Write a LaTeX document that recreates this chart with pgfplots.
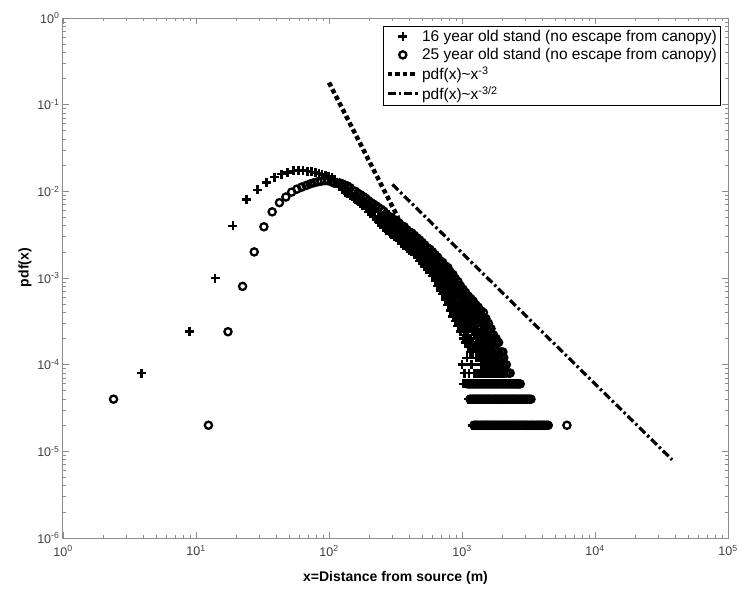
\documentclass[border=0pt]{standalone}
\usepackage{fontspec}
\setmainfont{Liberation Sans}
\usepackage{pgfplots}
\pgfplotsset{compat=1.18}
\definecolor{axgray}{gray}{0.55}
\definecolor{tickgray}{gray}{0.25}
\newcommand{\tp}[1]{10\textsuperscript{#1}}
\begin{document}
\begin{tikzpicture}
\useasboundingbox (-63pt,-51pt) rectangle (676pt,538pt);
\begin{axis}[
  at={(0pt,0pt)}, anchor=south west,
  scale only axis, width=665pt, height=520pt,
  xmode=log, ymode=log,
  xmin=1, xmax=1e5, ymin=1e-6, ymax=1,
  xtick={1,10,100,1000,10000,100000},
  xticklabels={\tp{0},\tp{1},\tp{2},\tp{3},\tp{4},\tp{5}},
  ytick={1e-6,1e-5,1e-4,1e-3,1e-2,1e-1,1},
  yticklabels={\tp{-6},\tp{-5},\tp{-4},\tp{-3},\tp{-2},\tp{-1},\tp{0}},
  tick align=inside,
  major tick length=6pt, minor tick length=3.5pt,
  axis line style={axgray, line width=1pt},
  every tick/.style={axgray, line width=0.8pt},
  tick label style={font=\fontsize{12.5}{14}\selectfont, text=tickgray},
  xticklabel style={yshift=-4pt},
  xlabel={\bfseries x=Distance from source (m)},
  ylabel={\bfseries pdf(x)},
  label style={font=\fontsize{14}{16}\selectfont},
  xlabel style={at={(axis description cs:0.5,-0.077)}, anchor=center},
  ylabel style={at={(axis description cs:-0.057,0.52)}, anchor=center},
  legend style={at={(axis description cs:0.9895,0.9846)}, anchor=north east,
    draw=black, line width=0.6pt, fill=white,
    font=\fontsize{15.5}{17}\selectfont, cells={anchor=west}, row sep=1.5pt, inner sep=2pt},
  legend image code/.code={\draw[mark repeat=2,mark phase=2,#1] plot coordinates {(0pt,0pt) (15pt,0pt) (30pt,0pt)};},
]
% 16 year old stand
\addplot[only marks, mark=+, mark size=4.5pt, line width=2.5pt, black] coordinates {
(3.9,8e-5) (8.9,2.4e-4) (13.9,1e-3) (18.9,4e-3) (23.9,8e-3) (28.9,1.04e-2) (33.9,1.26e-2) (38.9,1.46e-2) (43.9,1.58e-2) (48.9,1.66e-2) (53.9,1.72e-2) (58.9,1.74e-2) (63.9,1.73e-2) (68.9,1.71e-2) (73.9,1.68e-2) (78.9,1.64e-2) (83.9,1.6e-2) (88.9,1.56e-2) (93.9,1.52e-2) (98.9,1.48e-2)
(105,1.45e-2) (110,1.36e-2) (115,1.28e-2) (120,1.16e-2) (126,1.04e-2) (132,9.8e-3) (138,9.5e-3) (144,8.9e-3) (151,8.7e-3) (158,8.1e-3) (165,7.6e-3) (173,7.2e-3) (181,6.8e-3) (181,7.6e-3) (189,6.3e-3) (198,6.6e-3) (198,5.8e-3) (207,5.5e-3) (216,5.9e-3) (216,5.1e-3) (226,4.7e-3) (236,5.2e-3) (236,4.4e-3) (247,4.1e-3)
(185,7.4e-3) (203,6.5e-3) (221,5.75e-3) (241,5.1e-3)
(258,4.5e-3) (258,3.8e-3) (270,4.3e-3) (270,3.5e-3) (282,3.9e-3) (282,3.4e-3) (295,3.7e-3) (295,3.2e-3) (308,3.6e-3) (308,3.0e-3) (322,3.4e-3) (322,2.9e-3) (337,3.1e-3) (337,2.7e-3) (352,3.0e-3) (352,2.5e-3) (368,2.9e-3) (368,2.4e-3) (385,2.6e-3) (385,2.2e-3) (402,2.5e-3) (402,2.1e-3) (420,2.4e-3) (420,2.0e-3) (439,2.2e-3) (439,1.86e-3) (459,2.14e-3) (459,1.74e-3) (480,1.95e-3) (480,1.58e-3) (502,1.82e-3) (502,1.48e-3) (525,1.7e-3) (525,1.35e-3) (549,1.55e-3) (549,1.26e-3) (574,1.48e-3) (574,1.15e-3) (600,1.32e-3) (600,1.05e-3)
(264,4.0e-3) (276,3.7e-3) (288,3.55e-3) (301,3.35e-3) (315,3.2e-3) (329,3.0e-3) (344,2.8e-3) (360,2.65e-3) (376,2.5e-3) (393,2.35e-3) (411,2.2e-3) (429,2.1e-3) (449,1.95e-3) (469,1.8e-3) (491,1.7e-3) (513,1.55e-3) (537,1.45e-3) (561,1.35e-3) (587,1.23e-3) (613,1.12e-3)
(627,1.26e-3) (627,1.10e-3) (627,9.3e-4) (655,1.12e-3) (655,9.8e-4) (655,8.1e-4) (685,1.02e-3) (685,8.5e-4) (685,7.2e-4) (716,9.3e-4) (716,7.8e-4) (716,6.5e-4) (748,8.5e-4) (748,6.9e-4) (748,5.6e-4) (782,7.6e-4) (782,6.2e-4) (782,4.9e-4) (817,6.9e-4) (817,5.4e-4) (817,4.2e-4) (854,6.0e-4) (854,4.8e-4) (854,3.6e-4) (892,5.2e-4) (892,4.2e-4) (892,3.2e-4) (932,4.7e-4) (932,3.5e-4) (932,2.8e-4) (974,4.2e-4) (974,3.2e-4) (974,2.4e-4) (1018,3.6e-4) (1018,2.8e-4) (1018,2.0e-4) (1064,3.2e-4) (1064,2.4e-4) (1064,1.8e-4) (1112,3.0e-4) (1112,2.2e-4) (1112,1.6e-4) (1162,2.6e-4) (1162,2.0e-4) (1162,1.4e-4) (1214,2.4e-4) (1214,1.8e-4) (1214,1.4e-4) (1269,2.4e-4) (1269,1.8e-4) (1269,1.2e-4) (1326,2.2e-4) (1326,1.6e-4) (1326,1.2e-4) (1386,2.0e-4) (1386,1.6e-4) (1386,1.0e-4) (1448,1.8e-4) (1448,1.4e-4) (1448,1.0e-4) (1513,1.8e-4) (1513,1.4e-4) (1513,1.0e-4) (1581,1.6e-4) (1581,1.2e-4) (1581,1.0e-4) (1652,1.6e-4) (1652,1.2e-4) (1652,1.0e-4) (1726,1.4e-4) (1726,1.2e-4) (1726,1.0e-4) (1804,1.2e-4) (1804,1.0e-4) (1804,8e-5) (1885,1.0e-4) (1885,8e-5) (1970,8e-5) (2059,8e-5)
(641,1.15e-3) (641,9.3e-4) (670,1.02e-3) (670,8.3e-4) (700,9.3e-4) (700,7.4e-4) (732,8.4e-4) (732,6.6e-4) (765,7.5e-4) (765,5.8e-4) (799,6.6e-4) (799,5.0e-4) (835,5.8e-4) (835,4.4e-4) (873,5.1e-4) (873,3.8e-4) (912,4.6e-4) (912,3.3e-4) (953,4.0e-4) (953,2.8e-4) (996,3.55e-4) (996,2.6e-4) (1041,3.2e-4) (1041,2.2e-4) (1088,2.8e-4) (1088,2.0e-4) (1137,2.6e-4) (1137,1.8e-4) (1188,2.4e-4) (1188,1.6e-4) (1241,2.2e-4) (1241,1.6e-4) (1297,2.0e-4) (1297,1.4e-4) (1356,1.8e-4) (1356,1.2e-4) (1417,1.8e-4) (1417,1.2e-4) (1480,1.6e-4) (1480,1.2e-4) (1547,1.6e-4) (1547,1.2e-4) (1616,1.4e-4) (1616,1.2e-4) (1689,1.4e-4) (1689,1.0e-4) (1765,1.4e-4) (1765,1.0e-4) (1844,1.2e-4) (1844,1.0e-4)
(1000,1.0e-4) (1040,8e-5) (1090,1.2e-4) (1130,8e-5) (1180,1.0e-4) (1240,8e-5) (1300,8e-5) (1400,8e-5) (1500,8e-5) (1600,8e-5) (1700,8e-5) (1350,8e-5) (1450,8e-5) (1550,8e-5) (1650,8e-5) (1750,8e-5)
(1020,6e-5) (1080,6e-5) (1145,6e-5) (1215,6e-5) (1290,6e-5) (1365,6e-5) (1450,6e-5) (1535,6e-5) (1630,6e-5) (1725,6e-5) (1830,6e-5) (1940,6e-5) (2055,6e-5) (2180,6e-5) (2310,6e-5) (2450,6e-5)
(1050,6e-5) (1112,6e-5) (1180,6e-5) (1252,6e-5) (1327,6e-5) (1407,6e-5) (1492,6e-5) (1582,6e-5) (1677,6e-5) (1777,6e-5) (1885,6e-5) (1997,6e-5) (2117,6e-5) (2245,6e-5) (2380,6e-5)
(1110,4e-5) (1180,4e-5) (1250,4e-5) (1325,4e-5) (1405,4e-5) (1490,4e-5) (1580,4e-5) (1675,4e-5) (1775,4e-5) (1880,4e-5) (1995,4e-5) (2115,4e-5) (2240,4e-5) (2375,4e-5) (2520,4e-5) (2670,4e-5)
(1145,4e-5) (1215,4e-5) (1287,4e-5) (1365,4e-5) (1447,4e-5) (1535,4e-5) (1627,4e-5) (1725,4e-5) (1827,4e-5) (1937,4e-5) (2055,4e-5) (2177,4e-5) (2307,4e-5) (2447,4e-5) (2595,4e-5)
(1190,2e-5) (1260,2e-5) (1340,2e-5) (1420,2e-5) (1505,2e-5) (1595,2e-5) (1690,2e-5) (1790,2e-5) (1900,2e-5) (2010,2e-5) (2135,2e-5) (2260,2e-5) (2395,2e-5) (2540,2e-5) (2690,2e-5) (2850,2e-5) (3020,2e-5)
(1225,2e-5) (1300,2e-5) (1380,2e-5) (1462,2e-5) (1550,2e-5) (1642,2e-5) (1740,2e-5) (1845,2e-5) (1955,2e-5) (2072,2e-5) (2197,2e-5) (2327,2e-5) (2467,2e-5) (2615,2e-5) (2770,2e-5) (2935,2e-5)
};
\addlegendentry{16 year old stand (no escape from canopy)}
% 25 year old stand
\addplot[only marks, mark=o, mark size=3.6pt, line width=2.3pt, black] coordinates {
(2.4,4e-5) (12.4,2e-5) (17.4,2.4e-4) (22.4,8e-4) (27.4,2.0e-3) (32.4,3.9e-3) (37.4,5.8e-3) (42.4,7.4e-3) (47.4,8.6e-3) (52.4,9.8e-3) (57.4,1.06e-2) (62.4,1.12e-2) (67.4,1.17e-2) (72.4,1.22e-2) (77.4,1.26e-2) (82.4,1.29e-2) (87.4,1.31e-2) (92.4,1.33e-2) (97.4,1.33e-2)
(105,1.28e-2) (110,1.24e-2) (115,1.24e-2) (120,1.25e-2) (126,1.22e-2) (132,1.17e-2) (138,1.15e-2) (144,1.10e-2) (151,1.02e-2) (158,1.0e-2) (165,9.5e-3) (173,9.1e-3) (173,7.9e-3) (181,8.7e-3) (189,8.3e-3) (189,7.2e-3) (198,7.8e-3) (207,7.4e-3) (207,6.3e-3) (216,7.1e-3) (226,6.8e-3) (226,5.6e-3) (236,6.5e-3) (247,6.2e-3) (247,5.0e-3)
(169,8.3e-3) (194,6.9e-3) (212,6.2e-3) (231,5.4e-3) (252,4.8e-3)
(258,5.9e-3) (258,5.0e-3) (270,5.5e-3) (270,4.6e-3) (282,5.1e-3) (282,4.7e-3) (295,5.0e-3) (295,4.2e-3) (308,4.7e-3) (308,4.0e-3) (322,4.6e-3) (322,3.7e-3) (337,4.3e-3) (337,3.6e-3) (352,4.0e-3) (352,3.5e-3) (368,3.9e-3) (368,3.2e-3) (385,3.6e-3) (385,3.1e-3) (402,3.4e-3) (402,3.0e-3) (420,3.3e-3) (420,2.7e-3) (439,3.1e-3) (439,2.6e-3) (459,2.9e-3) (459,2.45e-3) (480,2.75e-3) (480,2.2e-3) (502,2.57e-3) (502,2.14e-3) (525,2.4e-3) (525,1.9e-3) (549,2.24e-3) (549,1.86e-3) (574,2.14e-3) (574,1.66e-3) (600,2.0e-3) (600,1.58e-3)
(264,5.1e-3) (264,4.6e-3) (276,4.9e-3) (276,4.3e-3) (288,4.7e-3) (288,4.1e-3) (301,4.4e-3) (301,3.9e-3) (315,4.2e-3) (315,3.7e-3) (329,4.0e-3) (329,3.5e-3) (344,3.7e-3) (344,3.3e-3) (360,3.55e-3) (360,3.1e-3) (376,3.4e-3) (376,2.95e-3) (393,3.2e-3) (393,2.75e-3) (411,3.0e-3) (411,2.6e-3) (429,2.85e-3) (429,2.5e-3) (449,2.7e-3) (449,2.35e-3) (469,2.5e-3) (469,2.2e-3) (491,2.35e-3) (491,2.0e-3) (513,2.2e-3) (513,1.86e-3) (537,2.05e-3) (537,1.74e-3) (561,1.9e-3) (561,1.62e-3) (587,1.78e-3) (587,1.5e-3) (613,1.66e-3) (613,1.38e-3)
(627,1.86e-3) (627,1.62e-3) (627,1.41e-3) (655,1.74e-3) (655,1.45e-3) (655,1.26e-3) (685,1.58e-3) (685,1.38e-3) (685,1.15e-3) (716,1.51e-3) (716,1.23e-3) (716,1.07e-3) (748,1.38e-3) (748,1.20e-3) (748,9.5e-4) (782,1.32e-3) (782,1.07e-3) (782,8.9e-4) (817,1.17e-3) (817,1.0e-3) (817,7.8e-4) (854,1.10e-3) (854,8.7e-4) (854,7.1e-4) (892,9.8e-4) (892,8.1e-4) (892,6.3e-4) (932,9.1e-4) (932,7.1e-4) (932,5.8e-4) (974,8.1e-4) (974,6.6e-4) (974,5.0e-4) (1018,7.4e-4) (1018,5.8e-4) (1018,4.5e-4) (1064,6.8e-4) (1064,5.2e-4) (1064,4.0e-4) (1112,6.2e-4) (1112,4.9e-4) (1112,3.7e-4) (1162,5.8e-4) (1162,4.5e-4) (1162,3.4e-4) (1214,5.4e-4) (1214,4.2e-4) (1214,3.2e-4) (1269,4.9e-4) (1269,3.8e-4) (1269,3.0e-4) (1326,4.6e-4) (1326,3.6e-4) (1326,2.8e-4) (1386,4.2e-4) (1386,3.2e-4) (1386,2.6e-4) (1448,4.0e-4) (1448,3.0e-4) (1448,2.4e-4) (1513,3.4e-4) (1513,2.8e-4) (1513,2.2e-4) (1581,3.0e-4) (1581,2.4e-4) (1581,2.0e-4) (1652,2.6e-4) (1652,2.2e-4) (1652,1.8e-4) (1726,2.2e-4) (1726,2.0e-4) (1726,1.6e-4) (1804,2.0e-4) (1804,1.8e-4) (1804,1.4e-4) (1885,1.8e-4) (1885,1.4e-4) (1885,1.2e-4) (1970,1.4e-4) (1970,1.2e-4) (1970,1.0e-4) (2030,1.4e-4) (2059,1.2e-4) (2059,1.0e-4) (2059,8e-5) (2152,1.0e-4) (2152,8e-5) (2249,8e-5) (2300,8e-5)
(641,1.68e-3) (641,1.38e-3) (670,1.55e-3) (670,1.26e-3) (700,1.45e-3) (700,1.15e-3) (732,1.33e-3) (732,1.05e-3) (765,1.23e-3) (765,9.5e-4) (799,1.14e-3) (799,8.6e-4) (835,1.02e-3) (835,7.7e-4) (873,9.3e-4) (873,6.8e-4) (912,8.4e-4) (912,6.2e-4) (953,7.6e-4) (953,5.5e-4) (996,6.8e-4) (996,4.8e-4) (1041,6.2e-4) (1041,4.3e-4) (1088,5.6e-4) (1088,3.9e-4) (1137,5.2e-4) (1137,3.6e-4) (1188,4.8e-4) (1188,3.4e-4) (1241,4.5e-4) (1241,3.2e-4) (1297,4.2e-4) (1297,3.0e-4) (1356,3.9e-4) (1356,2.6e-4) (1417,3.6e-4) (1417,2.4e-4) (1480,3.2e-4) (1480,2.2e-4) (1547,2.8e-4) (1547,2.0e-4) (1616,2.6e-4) (1616,1.8e-4) (1689,2.2e-4) (1689,1.8e-4) (1765,2.0e-4) (1765,1.6e-4) (1844,1.8e-4) (1844,1.4e-4)
(1100,6e-5) (1170,6e-5) (1240,6e-5) (1315,6e-5) (1395,6e-5) (1480,6e-5) (1570,6e-5) (1665,6e-5) (1765,6e-5) (1870,6e-5) (1985,6e-5) (2100,6e-5) (2230,6e-5) (2365,6e-5) (2505,6e-5) (2620,6e-5) (2740,6e-5)
(1135,6e-5) (1205,6e-5) (1277,6e-5) (1355,6e-5) (1437,6e-5) (1525,6e-5) (1617,6e-5) (1715,6e-5) (1817,6e-5) (1927,6e-5) (2042,6e-5) (2165,6e-5) (2297,6e-5) (2435,6e-5) (2562,6e-5) (2680,6e-5)
(1150,4e-5) (1220,4e-5) (1290,4e-5) (1370,4e-5) (1450,4e-5) (1540,4e-5) (1630,4e-5) (1730,4e-5) (1835,4e-5) (1945,4e-5) (2060,4e-5) (2185,4e-5) (2315,4e-5) (2455,4e-5) (2600,4e-5) (2760,4e-5) (2925,4e-5) (3100,4e-5) (3300,4e-5)
(1185,4e-5) (1255,4e-5) (1330,4e-5) (1410,4e-5) (1495,4e-5) (1585,4e-5) (1680,4e-5) (1782,4e-5) (1890,4e-5) (2002,4e-5) (2122,4e-5) (2250,4e-5) (2385,4e-5) (2527,4e-5) (2680,4e-5) (2842,4e-5) (3012,4e-5) (3200,4e-5)
(1230,2e-5) (1300,2e-5) (1380,2e-5) (1465,2e-5) (1550,2e-5) (1645,2e-5) (1745,2e-5) (1850,2e-5) (1960,2e-5) (2075,2e-5) (2200,2e-5) (2335,2e-5) (2475,2e-5) (2620,2e-5) (2780,2e-5) (2945,2e-5) (3120,2e-5) (3310,2e-5) (3510,2e-5) (3720,2e-5) (3940,2e-5) (4180,2e-5) (4450,2e-5) (6150,2e-5)
(1265,2e-5) (1340,2e-5) (1422,2e-5) (1507,2e-5) (1597,2e-5) (1695,2e-5) (1797,2e-5) (1905,2e-5) (2017,2e-5) (2137,2e-5) (2267,2e-5) (2405,2e-5) (2547,2e-5) (2700,2e-5) (2862,2e-5) (3032,2e-5) (3215,2e-5) (3410,2e-5) (3615,2e-5) (3830,2e-5) (4060,2e-5) (4315,2e-5)
};
\addlegendentry{25 year old stand (no escape from canopy)}
\addplot[black, line width=4.5pt, dash pattern=on 4.5pt off 3pt] coordinates {(100,0.18) (330,0.005)};
\addlegendentry{pdf(x)\textasciitilde x\textsuperscript{-3}}
\addplot[black, line width=3.2pt, dash pattern=on 8pt off 3pt on 2.5pt off 3pt] coordinates {(300,1.2e-2) (38000,8e-6)};
\addlegendentry{pdf(x)\textasciitilde x\textsuperscript{-3/2}}
\end{axis}
\end{tikzpicture}
\end{document}
